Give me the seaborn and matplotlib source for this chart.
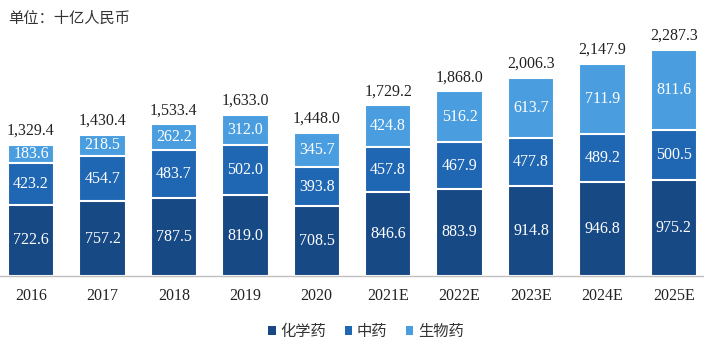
import matplotlib
matplotlib.use("Agg")
import matplotlib.pyplot as plt
import seaborn as sns
import pandas as pd
import numpy as np
from matplotlib.patches import Patch

years = ["2016", "2017", "2018", "2019", "2020", "2021E", "2022E", "2023E", "2024E", "2025E"]
chemical = [722.6, 757.2, 787.5, 819.0, 708.5, 846.6, 883.9, 914.8, 946.8, 975.2]
tcm = [423.2, 454.7, 483.7, 502.0, 393.8, 457.8, 467.9, 477.8, 489.2, 500.5]
bio = [183.6, 218.5, 262.2, 312.0, 345.7, 424.8, 516.2, 613.7, 711.9, 811.6]
totals = [1329.4, 1430.4, 1533.4, 1633.0, 1448.0, 1729.2, 1868.0, 2006.3, 2147.9, 2287.3]
series_names = ["化学药", "中药", "生物药"]

colors = ["#174985", "#2067B3", "#4A9EE0"]

sns.set_theme(style="white")
plt.rcParams["font.family"] = ["Liberation Serif", "Noto Sans CJK SC"]

df = pd.DataFrame({"year": years, "chem": chemical, "tcm": tcm, "bio": bio})
df["c1"] = df["chem"]
df["c2"] = df["chem"] + df["tcm"]
df["c3"] = df["c2"] + df["bio"]

fig = plt.figure(figsize=(7.04, 3.44), dpi=100)
ax = fig.add_axes([0, 68 / 344, 1, 1 - 68 / 344])

for col, c in zip(["c3", "c2", "c1"], colors[::-1]):
    sns.barplot(data=df, x="year", y=col, order=years, color=c, width=0.65,
                edgecolor="white", linewidth=1.5, ax=ax, saturation=1)

ax.set_xlim(-0.434, 9.421)
ax.set_ylim(0, 2793)
ax.set_xlabel("")
ax.set_ylabel("")
ax.set_yticks([])
for s in ["left", "right", "top"]:
    ax.spines[s].set_visible(False)
ax.spines["bottom"].set_color("#bfbfbf")
ax.spines["bottom"].set_linewidth(1.0)
ax.tick_params(axis="x", length=0, pad=9, labelsize=11.5, labelcolor="#222222")

for i in range(len(years)):
    base = 0
    for v in (chemical[i], tcm[i], bio[i]):
        ax.text(i, base + v / 2, f"{v:.1f}", ha="center", va="center",
                color="white", fontsize=11.5)
        base += v
    ax.text(i, totals[i] + 60, f"{totals[i]:,.1f}", ha="center", va="bottom",
            color="#222222", fontsize=11.5)

fig.text(0.012, 0.948, "单位：十亿人民币", ha="left", va="center",
         fontsize=11, color="#333333", family=["Noto Sans CJK SC", "DejaVu Sans"])

handles = [Patch(facecolor=c, edgecolor="none") for c in colors]
leg = fig.legend(handles, series_names, loc="center", bbox_to_anchor=(0.52, 0.037),
                 ncol=3, frameon=False, handlelength=0.5, handleheight=0.5,
                 handletextpad=0.3, columnspacing=1.2,
                 prop={"family": ["Noto Sans CJK SC", "DejaVu Sans"], "size": 11})
for t in leg.get_texts():
    t.set_color("#333333")

fig.savefig("out.png", dpi=100)
